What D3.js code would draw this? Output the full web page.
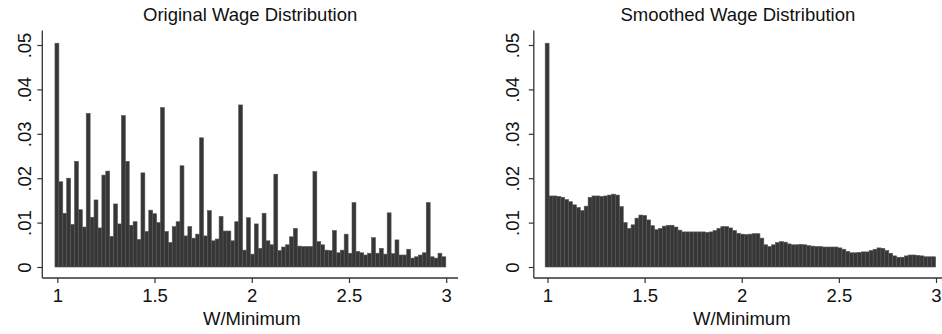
<!DOCTYPE html>
<html>
<head>
<meta charset="utf-8">
<script src="https://cdn.jsdelivr.net/npm/d3@7"></script>
<style>
  html, body { margin: 0; padding: 0; background: #fff; }
  svg { display: block; }
  text { font-family: "Liberation Sans", Arial, Helvetica, sans-serif; fill: #111; }
</style>
</head>
<body>
<svg id="chart" width="942" height="334"></svg>
<script>
// ---------- data ----------
const panelTitles = ["Original Wage Distribution", "Smoothed Wage Distribution"];
const xAxisTitle = "W/Minimum";
const xTickValues = [1, 1.5, 2, 2.5, 3];
const xTickLabels = ["1", "1.5", "2", "2.5", "3"];
const yTickValues = [0, 0.01, 0.02, 0.03, 0.04, 0.05];
const yTickLabels = ["0", ".01", ".02", ".03", ".04", ".05"];
const binStart = 0.988;
const binWidth = 0.0201;

const originalDensity = [
  0.0504, 0.0192, 0.0121, 0.0200, 0.0096, 0.0238, 0.0129, 0.0090, 0.0346, 0.0112,
  0.0151, 0.0088, 0.0207, 0.0216, 0.0069, 0.0142, 0.0097, 0.0341, 0.0238, 0.0094,
  0.0102, 0.0062, 0.0212, 0.0080, 0.0128, 0.0120, 0.0100, 0.0359, 0.0080, 0.0055,
  0.0091, 0.0102, 0.0228, 0.0070, 0.0091, 0.0065, 0.0074, 0.0291, 0.0070, 0.0127,
  0.0059, 0.0063, 0.0114, 0.0081, 0.0081, 0.0059, 0.0102, 0.0365, 0.0038, 0.0111,
  0.0029, 0.0097, 0.0042, 0.0121, 0.0059, 0.0050, 0.0209, 0.0037, 0.0045, 0.0050,
  0.0068, 0.0087, 0.0047, 0.0046, 0.0046, 0.0046, 0.0215, 0.0057, 0.0050, 0.0038,
  0.0037, 0.0082, 0.0032, 0.0038, 0.0074, 0.0031, 0.0145, 0.0035, 0.0032, 0.0027,
  0.0031, 0.0066, 0.0031, 0.0042, 0.0029, 0.0122, 0.0030, 0.0061, 0.0027, 0.0027,
  0.0040, 0.0020, 0.0023, 0.0027, 0.0032, 0.0145, 0.0023, 0.0020, 0.0031, 0.0023
];

const smoothedDensity = [
  0.0504, 0.0160, 0.0160, 0.0159, 0.0157, 0.0152, 0.0147, 0.0140, 0.0134, 0.0127,
  0.0137, 0.0157, 0.0160, 0.0160, 0.0159, 0.0160, 0.0162, 0.0164, 0.0162, 0.0136,
  0.0100, 0.0087, 0.0095, 0.0110, 0.0117, 0.0116, 0.0106, 0.0093, 0.0084, 0.0087,
  0.0092, 0.0094, 0.0094, 0.0090, 0.0083, 0.0079, 0.0079, 0.0079, 0.0079, 0.0079,
  0.0079, 0.0078, 0.0079, 0.0082, 0.0087, 0.0091, 0.0091, 0.0088, 0.0082, 0.0076,
  0.0074, 0.0073, 0.0074, 0.0075, 0.0075, 0.0065, 0.0050, 0.0046, 0.0050, 0.0055,
  0.0057, 0.0056, 0.0052, 0.0050, 0.0050, 0.0051, 0.0050, 0.0048, 0.0047, 0.0046,
  0.0046, 0.0045, 0.0045, 0.0045, 0.0045, 0.0043, 0.0040, 0.0035, 0.0032, 0.0032,
  0.0033, 0.0034, 0.0034, 0.0037, 0.0040, 0.0043, 0.0042, 0.0037, 0.0031, 0.0025,
  0.0022, 0.0022, 0.0025, 0.0027, 0.0027, 0.0026, 0.0025, 0.0023, 0.0023, 0.0023
];

// ---------- layout ----------
const panels = [
  { title: panelTitles[0], values: originalDensity, axisX: 42.3, x1: 57.3, x3: 446.2, xAxisEnd: 458, labelOff: 11 },
  { title: panelTitles[1], values: smoothedDensity, axisX: 533.8, x1: 547.5, x3: 936, xAxisEnd: 942, labelOff: 15 }
];
const yTop = 45, yZero = 267, axisTop = 30.5, axisY = 278;
const tickFont = 18.5, titleFont = 18.5;

const svg = d3.select("#chart");

panels.forEach(p => {
  const x = d3.scaleLinear().domain([1, 3]).range([p.x1, p.x3]);
  const y = d3.scaleLinear().domain([0, 0.05]).range([yZero, yTop]);
  const g = svg.append("g");

  const bins = p.values.map((v, i) => ({ x0: binStart + i * binWidth, x1: binStart + (i + 1) * binWidth, v }));

  // bars
  g.append("g").selectAll("rect").data(bins).join("rect")
    .attr("x", d => x(d.x0))
    .attr("width", d => x(d.x1) - x(d.x0))
    .attr("y", d => y(d.v))
    .attr("height", d => y(0) - y(d.v))
    .attr("fill", "#363636")
    .attr("stroke", "#555")
    .attr("stroke-width", 0.6);

  // axis lines (plot region borders)
  g.append("line")
    .attr("x1", p.axisX).attr("x2", p.axisX)
    .attr("y1", axisTop).attr("y2", axisY)
    .attr("stroke", "#333").attr("stroke-width", 1.3);
  g.append("line")
    .attr("x1", p.axisX).attr("x2", p.xAxisEnd)
    .attr("y1", axisY).attr("y2", axisY)
    .attr("stroke", "#333").attr("stroke-width", 1.3);

  // y axis
  const yAxis = d3.axisLeft(y)
    .tickValues(yTickValues)
    .tickSize(5)
    .tickSizeOuter(0)
    .tickFormat((d, i) => yTickLabels[i]);
  const yg = g.append("g").attr("transform", `translate(${p.axisX},0)`).call(yAxis);
  yg.select(".domain").remove();
  yg.selectAll(".tick line").attr("stroke", "#333").attr("stroke-width", 1.2);
  yg.selectAll(".tick text")
    .attr("x", null).attr("dy", null)
    .attr("text-anchor", "middle")
    .attr("transform", `translate(${-p.labelOff},0) rotate(-90)`)
    .style("font-size", tickFont + "px")
    .style("font-family", '"Liberation Sans", Arial, sans-serif')
    .attr("fill", "#111");

  // x axis
  const xAxis = d3.axisBottom(x)
    .tickValues(xTickValues)
    .tickSize(5)
    .tickSizeOuter(0)
    .tickFormat((d, i) => xTickLabels[i]);
  const xg = g.append("g").attr("transform", `translate(0,${axisY})`).call(xAxis);
  xg.select(".domain").remove();
  xg.selectAll(".tick line").attr("stroke", "#333").attr("stroke-width", 1.2);
  xg.selectAll(".tick text")
    .attr("y", 24).attr("dy", null)
    .style("font-size", tickFont + "px")
    .style("font-family", '"Liberation Sans", Arial, sans-serif')
    .attr("fill", "#111");

  const cx = (p.axisX + p.xAxisEnd) / 2;
  // title
  g.append("text")
    .attr("x", cx).attr("y", 21)
    .attr("text-anchor", "middle")
    .style("font-size", titleFont + "px")
    .text(p.title);
  // x axis title
  g.append("text")
    .attr("x", (x(1) + x(3)) / 2).attr("y", 325)
    .attr("text-anchor", "middle")
    .style("font-size", titleFont + "px")
    .text(xAxisTitle);
});
</script>
</body>
</html>
